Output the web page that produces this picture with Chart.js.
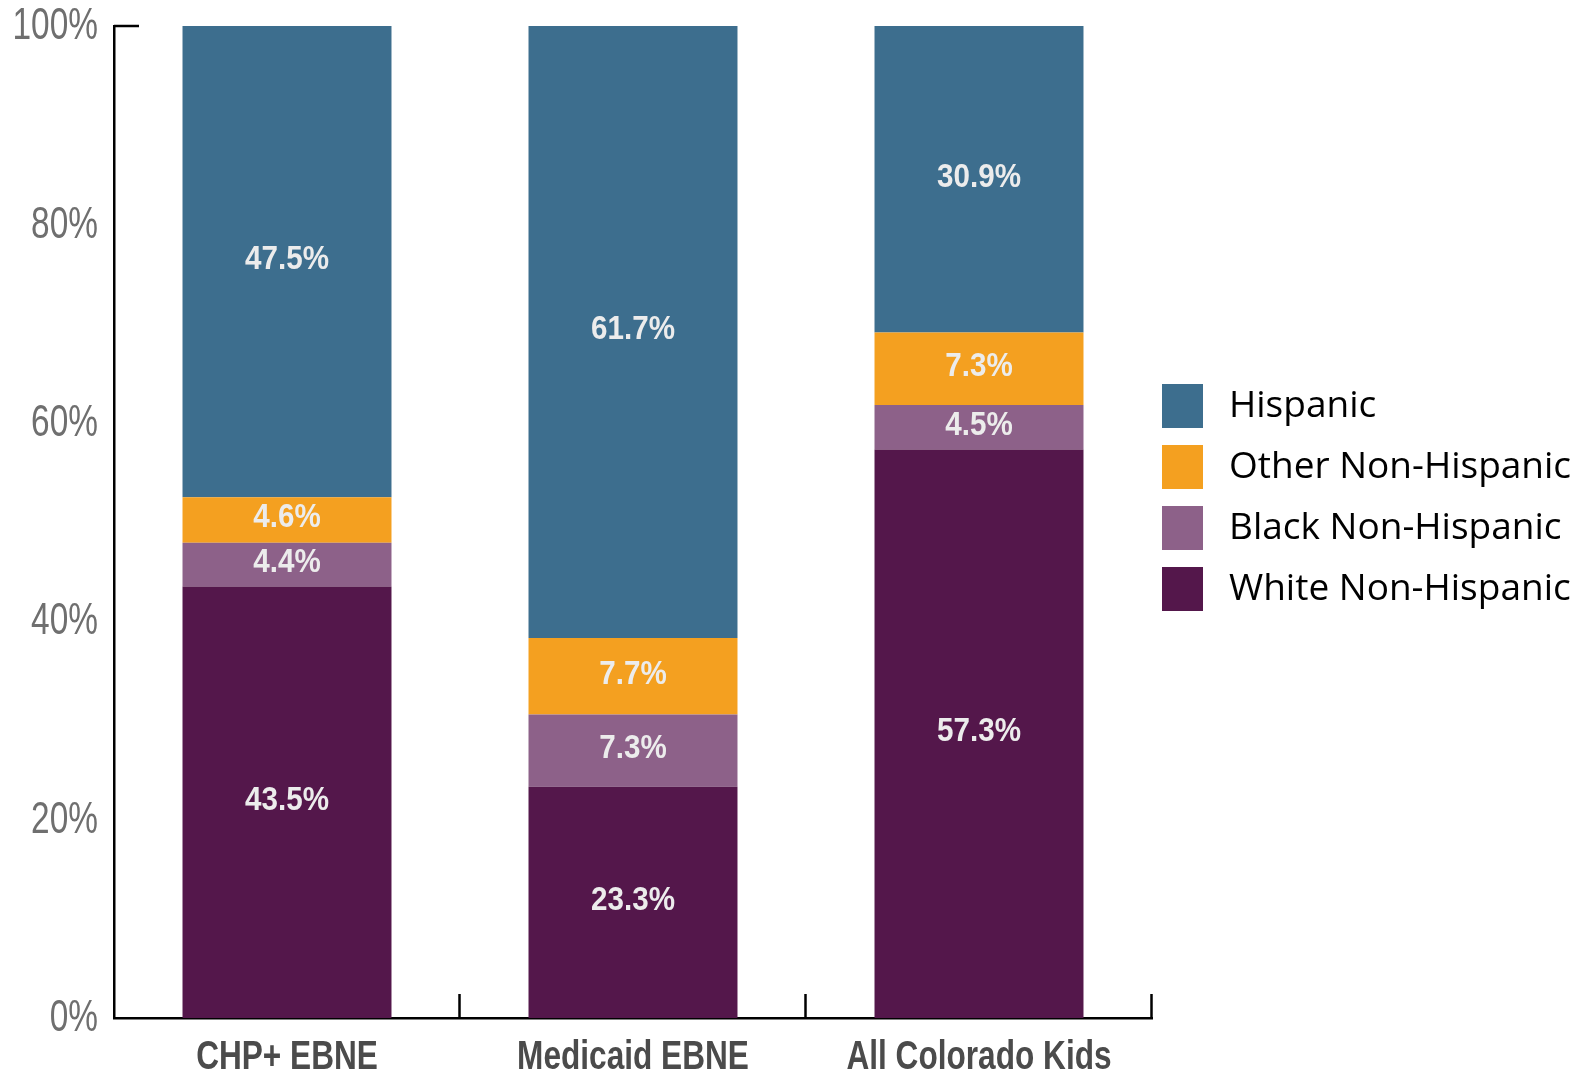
<!DOCTYPE html>
<html>
<head>
<meta charset="utf-8">
<script src="https://cdn.jsdelivr.net/npm/chart.js@4.4.1/dist/chart.umd.min.js"></script>
<style>
html,body{margin:0;padding:0;background:#fff;}
#wrap{width:1581px;height:1076px;position:relative;}
</style>
</head>
<body>
<div id="wrap"><canvas id="c" width="1581" height="1076"></canvas></div>
<script>
const categories = ["CHP+ EBNE", "Medicaid EBNE", "All Colorado Kids"];
const seriesNames = ["White Non-Hispanic", "Black Non-Hispanic", "Other Non-Hispanic", "Hispanic"];
const whiteNH = [43.5, 23.3, 57.3];
const blackNH = [4.4, 7.3, 4.5];
const otherNH = [4.6, 7.7, 7.3];
const hispanic = [47.5, 61.7, 30.9];
const yTicks = [0, 20, 40, 60, 80, 100];
const colors = ["#54174b", "#8d6189", "#f4a020", "#3d6e8e"];
const legendOrder = [3, 2, 1, 0];

const FAM = "'Liberation Sans', Arial, sans-serif";

// draw horizontally condensed text
function condText(ctx, text, x, y, sx, align) {
  ctx.save();
  ctx.translate(x, y);
  ctx.scale(sx, 1);
  ctx.textAlign = align;
  ctx.fillText(text, 0, 0);
  ctx.restore();
}

const dataLabels = {
  id: 'dataLabels',
  afterDatasetsDraw(chart) {
    const ctx = chart.ctx;
    ctx.save();
    ctx.font = "bold 34px " + FAM;
    ctx.fillStyle = "#ececec";
    ctx.textBaseline = "middle";
    chart.data.datasets.forEach((ds, i) => {
      const meta = chart.getDatasetMeta(i);
      meta.data.forEach((bar, j) => {
        const v = ds.data[j];
        const yc = (bar.y + bar.base) / 2;
        condText(ctx, v.toFixed(1) + "%", bar.x, yc - 2, 0.87, "center");
      });
    });
    ctx.restore();
  }
};

const axisDecor = {
  id: 'axisDecor',
  afterDraw(chart) {
    const ctx = chart.ctx;
    const x = chart.scales.x, y = chart.scales.y;
    ctx.save();
    ctx.strokeStyle = "#000";
    ctx.lineWidth = 2.5;
    const half = (x.getPixelForValue(1) - x.getPixelForValue(0)) / 2;
    for (let i = 0; i < categories.length; i++) {
      const px = Math.round(x.getPixelForValue(i) + half) - 0.5;
      ctx.beginPath();
      ctx.moveTo(px, y.getPixelForValue(0));
      ctx.lineTo(px, y.getPixelForValue(0) - 24);
      ctx.stroke();
    }
    const top = y.getPixelForValue(100);
    ctx.beginPath();
    ctx.moveTo(x.left, top);
    ctx.lineTo(x.left + 25, top);
    ctx.stroke();

    // y tick labels
    ctx.font = "44px " + FAM;
    ctx.fillStyle = "#6f6f6f";
    ctx.textBaseline = "middle";
    y.ticks.forEach((t, i) => {
      condText(ctx, t.value + "%", y.right - 16, y.getPixelForTick(i) + 1, 0.76, "right");
    });
    // x tick labels
    ctx.font = "bold 40px " + FAM;
    ctx.fillStyle = "#4b4b4b";
    x.ticks.forEach((t, i) => {
      condText(ctx, chart.data.labels[t.value], x.getPixelForTick(i), 1058, 0.79, "center");
    });
    ctx.restore();
  }
};

const customLegend = {
  id: 'customLegend',
  afterDraw(chart) {
    const ctx = chart.ctx;
    ctx.save();
    const x0 = chart.chartArea.right + 10;
    let y0 = 384;
    ctx.font = "37px 'Open Sans', sans-serif";
    ctx.textBaseline = "middle";
    ctx.textAlign = "left";
    legendOrder.forEach((idx, k) => {
      const ds = chart.data.datasets[idx];
      const yy = y0 + k * 61;
      ctx.fillStyle = ds.backgroundColor;
      ctx.fillRect(x0, yy, 41, 44);
      ctx.fillStyle = "#000";
      ctx.fillText(ds.label, x0 + 67, yy + 22);
    });
    ctx.restore();
  }
};

const seriesData = [whiteNH, blackNH, otherNH, hispanic];

new Chart(document.getElementById('c'), {
  type: 'bar',
  data: {
    labels: categories,
    datasets: seriesNames.map((n, i) => ({
      label: n,
      data: seriesData[i],
      backgroundColor: colors[i],
      borderWidth: 0,
      categoryPercentage: 1.0,
      barPercentage: 0.604
    }))
  },
  options: {
    responsive: false,
    animation: false,
    devicePixelRatio: 1,
    layout: { padding: { left: 0, top: 26, right: 1581 - 1152, bottom: 0 } },
    plugins: { legend: { display: false }, tooltip: { enabled: false } },
    scales: {
      x: {
        stacked: true,
        grid: { display: false },
        border: { display: true, color: "#000", width: 2.5 },
        ticks: { display: false },
        afterFit(s) { s.height = 58; s.paddingLeft = 0; s.paddingRight = 0; }
      },
      y: {
        stacked: true,
        min: 0, max: 100,
        afterBuildTicks(s) { s.ticks = yTicks.map(v => ({ value: v })); },
        grid: { display: false },
        border: { display: true, color: "#000", width: 2.5 },
        ticks: { display: false },
        afterFit(s) { s.width = 114; s.paddingTop = 0; s.paddingBottom = 0; }
      }
    }
  },
  plugins: [dataLabels, axisDecor, customLegend]
});
</script>
</body>
</html>
